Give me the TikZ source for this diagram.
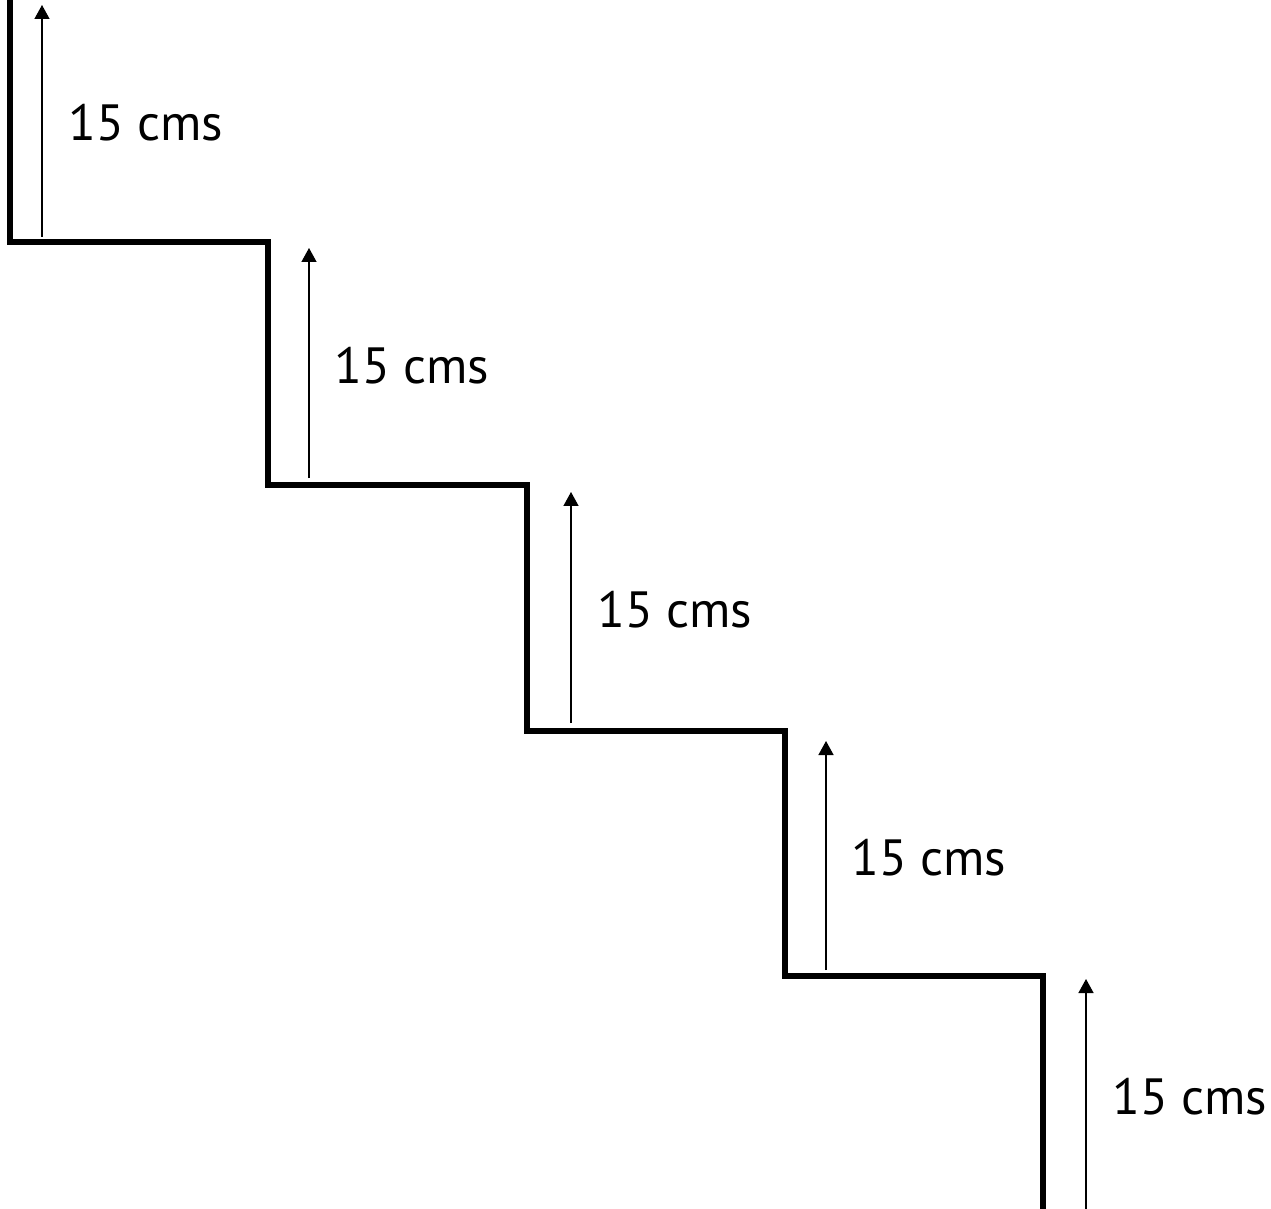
\documentclass[tikz,border=0pt]{standalone}
\usepackage{fontspec}
\setmainfont{PT Sans}
\usetikzlibrary{arrows.meta}
\begin{document}
\begin{tikzpicture}[x=0.02cm,y=-0.02cm,
  stair/.style={line width=3pt,line join=miter},
  rise/.style={line width=0.8pt,-{Triangle[length=0.28cm,width=0.3cm]}},
  lbl/.style={anchor=base west,inner sep=0pt,font=\fontsize{29}{35}\selectfont}]
  \useasboundingbox (0,0) rectangle (1271,1209);
  %stairs
  \draw[stair] (10,0) -- (10,242) -- (268,242) -- (268,485) -- (527,485)
    -- (527,731) -- (785,731) -- (785,976) -- (1043,976) -- (1043,1209);
  %risers
  \foreach \n/\ax/\ab/\at/\lx/\ly in {1/42/237/5/68/141,
      2/309/478/248/334/383,
      3/571/723/492/597/627,
      4/826/970/741/851/875,
      5/1086/1209/979/1112/1114}{
    \coordinate (foot\n) at (\ax,\ab);
    \coordinate (head\n) at (\ax,\at);
    \draw[rise] (foot\n) -- (head\n);
    \node[lbl] (label\n) at (\lx,\ly) {15 cms};
  }
\end{tikzpicture}
\end{document}
